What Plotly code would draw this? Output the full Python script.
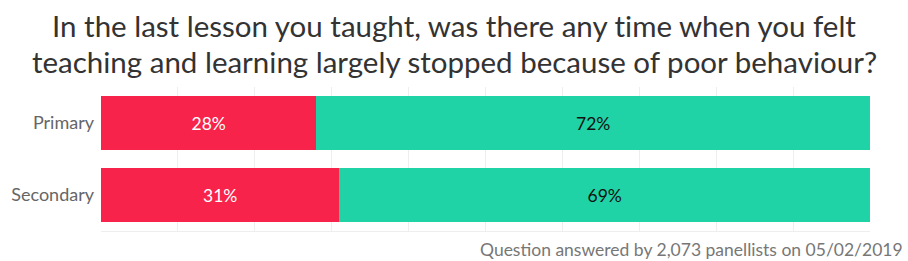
import plotly.graph_objects as go

categories = ["Primary", "Secondary"]
yes_vals = [28, 31]
no_vals = [72, 69]
title_lines = [
    "In the last lesson you taught, was there any t\u200cime when you felt",
    "teaching and learning largely stopped because of poor behaviour?",
]
footnote = "Question answered by 2,073 panellists on 05/02/2019"

FONT = "Lato, 'Open Sans', sans-serif"

fig = go.Figure()
fig.add_trace(go.Bar(
    y=categories, x=yes_vals, orientation="h", name="Yes",
    marker=dict(color="#F7234A", line=dict(width=0)),
    text=[f"{v}%" for v in yes_vals], textposition="inside",
    insidetextanchor="middle", textfont=dict(color="white", size=17.5, family=FONT),
    hoverinfo="skip",
))
fig.add_trace(go.Bar(
    y=categories, x=no_vals, orientation="h", name="No",
    marker=dict(color="#1FD3A6", line=dict(width=0)),
    text=[f"{v}%" for v in no_vals], textposition="inside",
    insidetextanchor="middle", textfont=dict(color="#111111", size=17.5, family=FONT),
    hoverinfo="skip",
))

# plot area spans 101..870 px horizontally, 87..231 px vertically
annotations = []
title_centers_px = [25.5, 62.0]
for line, cy in zip(title_lines, title_centers_px):
    annotations.append(dict(
        text=line, xref="paper", yref="paper",
        x=(454 - 101) / 769, y=(231 - cy) / 144,
        xanchor="center", yanchor="middle", showarrow=False,
        font=dict(family=FONT, size=29.5, color="#333333"),
    ))
annotations.append(dict(
    text=footnote, xref="paper", yref="paper", x=(905 - 101) / 769, y=(231 - 249) / 144,
    xanchor="right", yanchor="middle", showarrow=False,
    font=dict(family=FONT, size=17.5, color="#777777"),
))

fig.update_layout(
    barmode="stack",
    bargap=0.25,
    width=908, height=261,
    margin=dict(l=101, r=38, t=87, b=30),
    paper_bgcolor="white", plot_bgcolor="white",
    showlegend=False,
    font=dict(family=FONT, color="#666666", size=18),
    xaxis=dict(
        range=[0, 100], dtick=10, showgrid=True, gridcolor="#EEEEEE", gridwidth=1,
        showticklabels=False, zeroline=False, showline=True, linecolor="#EEEEEE",
        linewidth=1, ticks="", fixedrange=True,
    ),
    yaxis=dict(
        autorange="reversed", showgrid=False, zeroline=False, ticks="",
        ticklabelstandoff=6, tickfont=dict(size=18, color="#666666", family=FONT),
    ),
    annotations=annotations,
)

fig.write_html("out.html")
